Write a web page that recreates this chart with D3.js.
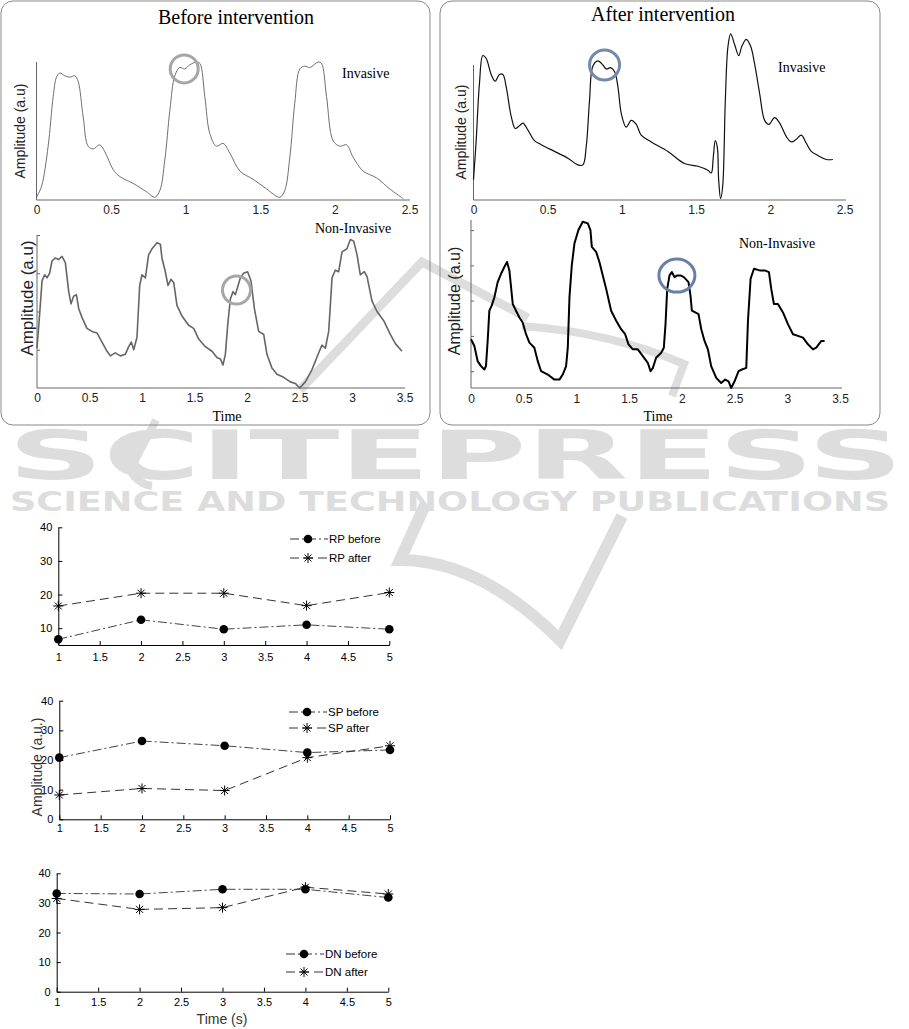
<!DOCTYPE html>
<html>
<head>
<meta charset="utf-8">
<script src="https://cdn.jsdelivr.net/npm/d3@7"></script>
<style>
  body { margin: 0; background: #fff; }
</style>
</head>
<body>
<svg id="main"></svg>
<script>
// pressure waveforms, [time (s), amplitude (a.u.)]
const beforeInvasive = [
  [0, 0.02], [0.034, 0.1], [0.078, 0.39], [0.112, 0.75], [0.134, 0.89], [0.156, 0.92], [0.19, 0.9],
  [0.223, 0.89], [0.257, 0.9], [0.279, 0.86], [0.313, 0.6], [0.346, 0.39], [0.38, 0.37], [0.424, 0.4],
  [0.458, 0.35], [0.514, 0.22], [0.558, 0.17], [0.648, 0.12], [0.737, 0.06], [0.793, 0.02], [0.827, 0.07],
  [0.86, 0.29], [0.894, 0.65], [0.927, 0.9], [0.96, 0.96], [0.994, 0.95], [1.028, 0.98], [1.072, 1.0],
  [1.095, 0.99], [1.128, 0.75], [1.162, 0.48], [1.206, 0.39], [1.251, 0.41], [1.296, 0.34], [1.363, 0.21],
  [1.452, 0.15], [1.542, 0.08], [1.631, 0.02], [1.664, 0.07], [1.698, 0.31], [1.731, 0.7], [1.765, 0.95],
  [1.798, 0.97], [1.832, 0.96], [1.888, 1.0], [1.91, 0.99], [1.944, 0.75], [1.988, 0.43], [2.033, 0.39],
  [2.078, 0.4], [2.122, 0.31], [2.189, 0.21], [2.279, 0.16], [2.368, 0.08], [2.458, 0.01]
];

const beforeNonInvasive = [
  [0, 0.26], [0.025, 0.48], [0.048, 0.7], [0.073, 0.74], [0.095, 0.72], [0.12, 0.75], [0.143, 0.83],
  [0.175, 0.85], [0.206, 0.84], [0.238, 0.86], [0.27, 0.82], [0.302, 0.63], [0.324, 0.55], [0.349, 0.6],
  [0.375, 0.61], [0.397, 0.52], [0.429, 0.46], [0.476, 0.39], [0.524, 0.37], [0.571, 0.36], [0.619, 0.3],
  [0.667, 0.24], [0.698, 0.21], [0.746, 0.23], [0.794, 0.21], [0.841, 0.22], [0.873, 0.27], [0.898, 0.3],
  [0.921, 0.25], [0.952, 0.33], [0.978, 0.67], [1.0, 0.74], [1.032, 0.72], [1.063, 0.87], [1.095, 0.91],
  [1.143, 0.95], [1.175, 0.94], [1.19, 0.85], [1.222, 0.76], [1.248, 0.67], [1.276, 0.71], [1.302, 0.69],
  [1.333, 0.54], [1.381, 0.47], [1.444, 0.41], [1.492, 0.39], [1.54, 0.32], [1.603, 0.27], [1.667, 0.24],
  [1.714, 0.2], [1.746, 0.19], [1.771, 0.15], [1.794, 0.22], [1.816, 0.41], [1.841, 0.58], [1.867, 0.63],
  [1.889, 0.61], [1.911, 0.66], [1.937, 0.72], [1.968, 0.75], [2.006, 0.76], [2.038, 0.7], [2.07, 0.52],
  [2.111, 0.37], [2.159, 0.35], [2.19, 0.22], [2.238, 0.13], [2.286, 0.09], [2.349, 0.07], [2.413, 0.04],
  [2.46, 0.03], [2.502, 0.0], [2.556, 0.04], [2.619, 0.12], [2.683, 0.23], [2.714, 0.28], [2.746, 0.26],
  [2.778, 0.37], [2.81, 0.72], [2.841, 0.77], [2.873, 0.76], [2.905, 0.89], [2.952, 0.91], [2.984, 0.97],
  [3.016, 0.96], [3.048, 0.87], [3.079, 0.74], [3.117, 0.76], [3.143, 0.73], [3.19, 0.57], [3.238, 0.5],
  [3.302, 0.44], [3.365, 0.35], [3.413, 0.29], [3.476, 0.24]
];

const afterInvasive = [
  [0, 0.15], [0.018, 0.44], [0.04, 0.86], [0.063, 1.07], [0.085, 1.05], [0.119, 0.93], [0.146, 0.88],
  [0.175, 0.93], [0.198, 0.93], [0.22, 0.84], [0.254, 0.62], [0.281, 0.53], [0.31, 0.55], [0.333, 0.57],
  [0.366, 0.52], [0.411, 0.44], [0.456, 0.41], [0.546, 0.36], [0.636, 0.31], [0.703, 0.26], [0.737, 0.26],
  [0.76, 0.4], [0.782, 0.74], [0.804, 0.99], [0.838, 1.03], [0.872, 1.0], [0.894, 0.97], [0.924, 0.98],
  [0.951, 0.95], [0.973, 0.84], [0.996, 0.64], [1.029, 0.54], [1.063, 0.59], [1.097, 0.56], [1.13, 0.48],
  [1.198, 0.43], [1.31, 0.36], [1.422, 0.27], [1.512, 0.25], [1.58, 0.22], [1.602, 0.2], [1.616, 0.32],
  [1.629, 0.44], [1.643, 0.39], [1.652, 0.15], [1.665, 0.01], [1.679, 0.1], [1.697, 0.74], [1.715, 1.14],
  [1.733, 1.23], [1.76, 1.15], [1.787, 1.07], [1.809, 1.14], [1.838, 1.19], [1.867, 1.14], [1.894, 1.01],
  [1.928, 0.79], [1.962, 0.59], [1.991, 0.56], [2.029, 0.61], [2.063, 0.57], [2.108, 0.47], [2.142, 0.43],
  [2.175, 0.45], [2.209, 0.48], [2.243, 0.42], [2.276, 0.36], [2.321, 0.33], [2.378, 0.3], [2.422, 0.3]
];

const afterNonInvasive = [
  [0, 0.29], [0.032, 0.25], [0.063, 0.16], [0.095, 0.13], [0.127, 0.11], [0.142, 0.13], [0.158, 0.28],
  [0.174, 0.46], [0.196, 0.49], [0.222, 0.54], [0.253, 0.63], [0.285, 0.68], [0.316, 0.72], [0.342, 0.75],
  [0.364, 0.7], [0.396, 0.5], [0.427, 0.46], [0.459, 0.42], [0.49, 0.39], [0.522, 0.32], [0.554, 0.27],
  [0.601, 0.24], [0.633, 0.16], [0.665, 0.1], [0.728, 0.08], [0.791, 0.05], [0.839, 0.05], [0.87, 0.08],
  [0.902, 0.13], [0.918, 0.24], [0.934, 0.54], [0.956, 0.73], [0.981, 0.86], [1.019, 0.94], [1.06, 0.99],
  [1.108, 0.98], [1.133, 0.94], [1.146, 0.84], [1.187, 0.81], [1.218, 0.75], [1.25, 0.67], [1.282, 0.59],
  [1.329, 0.46], [1.377, 0.4], [1.424, 0.35], [1.462, 0.32], [1.494, 0.26], [1.535, 0.23], [1.582, 0.23],
  [1.63, 0.19], [1.677, 0.15], [1.703, 0.1], [1.725, 0.12], [1.756, 0.18], [1.804, 0.21], [1.829, 0.24],
  [1.845, 0.38], [1.861, 0.59], [1.883, 0.67], [1.905, 0.69], [1.93, 0.66], [1.956, 0.67], [1.987, 0.67],
  [2.019, 0.66], [2.063, 0.63], [2.082, 0.55], [2.095, 0.46], [2.127, 0.45], [2.158, 0.44], [2.184, 0.35],
  [2.215, 0.28], [2.247, 0.23], [2.278, 0.13], [2.326, 0.06], [2.373, 0.03], [2.411, 0.05], [2.443, 0.04],
  [2.468, 0.0], [2.5, 0.04], [2.538, 0.1], [2.57, 0.11], [2.611, 0.12], [2.627, 0.4], [2.652, 0.65],
  [2.684, 0.71], [2.737, 0.7], [2.785, 0.7], [2.826, 0.69], [2.848, 0.59], [2.873, 0.5], [2.911, 0.5],
  [2.959, 0.45], [3.006, 0.38], [3.054, 0.32], [3.101, 0.31], [3.149, 0.3], [3.196, 0.26], [3.244, 0.23],
  [3.275, 0.24], [3.323, 0.28], [3.354, 0.28]
];

// highlighted notch, [time, amplitude]
const notchBeforeInv = [0.99, 0.95];
const notchBeforeNon = [1.9, 0.64];
const notchAfterInv = [0.883, 1.0];
const notchAfterNon = [1.953, 0.669];

const invTicks = [0, 0.5, 1, 1.5, 2, 2.5];
const nonTicks = [0, 0.5, 1, 1.5, 2, 2.5, 3, 3.5];
const beforeNonYTicks = [0.25, 0.5, 0.75, 1];
const afterNonYTicks = [0.1, 0.31, 0.52, 0.73, 0.94];

// feature amplitudes over time
const timeSteps = [1, 2, 3, 4, 5];
const rpBefore = [6.7, 12.5, 9.7, 11, 9.7];
const rpAfter = [16.6, 20.4, 20.4, 16.7, 20.6];
const spBefore = [20.8, 26.4, 24.8, 22.5, 23.4];
const spAfter = [8.2, 10.4, 9.7, 20.8, 24.8];
const dnBefore = [33.2, 33.0, 34.6, 34.6, 31.8];
const dnAfter = [31.5, 27.8, 28.4, 35.3, 33.0];
const timeTicks = [1, 1.5, 2, 2.5, 3, 3.5, 4, 4.5, 5];
const ampTicks = [0, 10, 20, 30, 40];

let width = 909,
  height = 1029;

const svg = d3.select('#main')
  .attr('width', width)
  .attr('height', height);

// ---- watermark ----
const wmColor = '#dddddd';
const wm = svg.append('g').attr('fill', 'none').attr('stroke', wmColor);
wm.append('path').attr('d', 'M300,390 L422,262 L528,318').attr('stroke-width', 9);
wm.append('path').attr('d', 'M522,326 Q610,332 684,364 L672,396').attr('stroke-width', 8);
wm.append('path').attr('d', 'M156,420 L130,470 Q138,484 152,486').attr('stroke-width', 8);
wm.append('path').attr('d', 'M425,505 L400,560 Q480,560 560,640 L622,516').attr('stroke-width', 12);

svg.append('text')
  .text('SCITEPRESS')
  .attr('x', 8)
  .attr('y', 479)
  .attr('font-family', 'DejaVu Sans')
  .attr('font-weight', 'bold')
  .attr('font-size', 68)
  .attr('textLength', 895)
  .attr('lengthAdjust', 'spacingAndGlyphs')
  .attr('fill', wmColor);

svg.append('text')
  .text('SCIENCE AND TECHNOLOGY PUBLICATIONS')
  .attr('x', 10)
  .attr('y', 511)
  .attr('font-family', 'DejaVu Sans')
  .attr('font-weight', 'bold')
  .attr('font-size', 26)
  .attr('textLength', 880)
  .attr('lengthAdjust', 'spacingAndGlyphs')
  .attr('fill', wmColor);

// ---- top panels ----
svg.append('rect')
  .attr('x', 1).attr('y', 1).attr('width', 429).attr('height', 424)
  .attr('rx', 12).attr('fill', 'none').attr('stroke', '#888');

svg.append('rect')
  .attr('x', 440).attr('y', 1).attr('width', 440).attr('height', 424)
  .attr('rx', 12).attr('fill', 'none').attr('stroke', '#888');

svg.append('text')
  .text('Before intervention')
  .attr('x', 236).attr('y', 24)
  .attr('text-anchor', 'middle')
  .attr('font-family', 'Liberation Serif')
  .attr('font-size', 20);

svg.append('text')
  .text('After intervention')
  .attr('x', 663).attr('y', 21)
  .attr('text-anchor', 'middle')
  .attr('font-family', 'Liberation Serif')
  .attr('font-size', 20);

const drawWave = p => {
  const x = d3.scaleLinear().domain(p.xDomain).range(p.xRange);
  const y = d3.scaleLinear().domain([0, 1]).range(p.yRange);
  const g = svg.append('g');

  g.append('g')
    .attr('transform', `translate(0, ${p.yRange[0]})`)
    .call(d3.axisBottom(x).tickValues(p.xTicks).tickSize(0).tickPadding(p.pad).tickFormat(d3.format('')))
    .call(a => a.select('.domain').attr('stroke', '#666').attr('d', `M${p.xRange[0]},0H${p.axisEnd}`))
    .selectAll('text')
    .attr('font-family', 'Liberation Sans')
    .attr('font-size', 12)
    .attr('fill', '#222');

  const yAxis = g.append('g')
    .attr('transform', `translate(${p.xRange[0]}, 0)`)
    .call(d3.axisRight(y).tickValues(p.yTicks || []).tickSize(p.yTicks ? 3 : 0).tickFormat(''));
  yAxis.select('.domain').attr('stroke', '#666').attr('d', `M0,${p.yRange[0]}V${p.yTop}`);
  yAxis.selectAll('line').attr('stroke', '#666');

  g.append('path')
    .datum(p.data)
    .attr('fill', 'none')
    .attr('stroke', p.color)
    .attr('stroke-width', p.lw)
    .attr('stroke-linejoin', 'round')
    .attr('d', d3.line().x(d => x(d[0])).y(d => y(d[1])).curve(p.curve));

  g.append('ellipse')
    .attr('cx', x(p.notch[0]))
    .attr('cy', y(p.notch[1]))
    .attr('rx', p.rx)
    .attr('ry', p.ry)
    .attr('fill', 'none')
    .attr('stroke', p.circleColor)
    .attr('stroke-width', 3);

  g.append('text')
    .text('Amplitude (a.u)')
    .attr('transform', `translate(${p.labelX}, ${p.labelY}) rotate(-90)`)
    .attr('text-anchor', 'middle')
    .attr('font-family', 'Liberation Sans')
    .attr('font-size', p.labelSize)
    .attr('fill', '#222');

  g.append('text')
    .text(p.name)
    .attr('x', p.nameX).attr('y', p.nameY)
    .attr('font-family', 'Liberation Serif')
    .attr('font-size', 14);

  if (p.time) {
    g.append('text')
      .text('Time')
      .attr('x', p.time[0]).attr('y', p.time[1])
      .attr('text-anchor', 'middle')
      .attr('font-family', 'Liberation Serif')
      .attr('font-size', 14);
  }
};

drawWave({
  data: beforeInvasive, xDomain: [0, 2.5], xRange: [36.5, 409.5], axisEnd: 410, yRange: [200, 62], yTop: 62,
  xTicks: invTicks, pad: 5.5, color: '#6f6f6f', lw: 1, curve: d3.curveCatmullRom,
  notch: notchBeforeInv, rx: 14, ry: 14, circleColor: '#a6a6a6',
  labelX: 25, labelY: 131, labelSize: 14, name: 'Invasive', nameX: 342, nameY: 78
});

drawWave({
  data: beforeNonInvasive, xDomain: [0, 3.5], xRange: [37, 404.5], axisEnd: 405, yRange: [388, 235], yTop: 235,
  xTicks: nonTicks, yTicks: beforeNonYTicks, pad: 5, color: '#666', lw: 1.6, curve: d3.curveLinear,
  notch: notchBeforeNon, rx: 14, ry: 14, circleColor: '#a6a6a6',
  labelX: 33, labelY: 298, labelSize: 17, name: 'Non-Invasive', nameX: 315, nameY: 233, time: [227, 421]
});

drawWave({
  data: afterInvasive, xDomain: [0, 2.5], xRange: [473.5, 844.5], axisEnd: 846, yRange: [200, 65], yTop: 65,
  xTicks: invTicks, pad: 5.5, color: '#111', lw: 1.2, curve: d3.curveCatmullRom,
  notch: notchAfterInv, rx: 15, ry: 15, circleColor: '#7589ad',
  labelX: 466, labelY: 132, labelSize: 14, name: 'Invasive', nameX: 778, nameY: 72
});

drawWave({
  data: afterNonInvasive, xDomain: [0, 3.5], xRange: [471, 840], axisEnd: 842, yRange: [388, 220], yTop: 220,
  xTicks: nonTicks, yTicks: afterNonYTicks, pad: 6, color: '#000', lw: 2, curve: d3.curveLinear,
  notch: notchAfterNon, rx: 18, ry: 16.5, circleColor: '#6880a8',
  labelX: 460, labelY: 301, labelSize: 16, name: 'Non-Invasive', nameX: 739, nameY: 248, time: [658, 421]
});

// ---- feature charts ----
const starPath = s => {
  const k = s * 0.7;
  return `M${-s},0L${s},0M0,${-s}L0,${s}M${-k},${-k}L${k},${k}M${-k},${k}L${k},${-k}`;
};

const drawFeature = p => {
  const x = d3.scaleLinear().domain([1, 5]).range(p.xRange);
  const y = d3.scaleLinear().domain(p.yDomain).range(p.yRange);
  const g = svg.append('g');

  g.append('g')
    .attr('transform', `translate(0, ${p.yRange[0]})`)
    .call(d3.axisBottom(x).tickValues(timeTicks).tickSizeInner(-4).tickSizeOuter(0).tickPadding(p.pad).tickFormat(d3.format('')))
    .selectAll('text')
    .attr('font-family', 'Liberation Sans')
    .attr('font-size', 11);

  g.append('g')
    .attr('transform', `translate(${p.xRange[0]}, 0)`)
    .call(d3.axisLeft(y).tickValues(ampTicks.filter(v => v >= p.yDomain[0])).tickSizeInner(-4).tickSizeOuter(0).tickPadding(6))
    .selectAll('text')
    .attr('font-family', 'Liberation Sans')
    .attr('font-size', 11);

  const line = d3.line().x((d, i) => x(timeSteps[i])).y(d => y(d));

  g.append('path')
    .datum(p.before)
    .attr('fill', 'none')
    .attr('stroke', '#444')
    .attr('stroke-dasharray', '9,3,2,3')
    .attr('d', line);

  g.append('path')
    .datum(p.after)
    .attr('fill', 'none')
    .attr('stroke', '#333')
    .attr('stroke-dasharray', '9,5')
    .attr('d', line);

  g.selectAll('.dot')
    .data(p.before)
    .enter()
    .append('circle')
    .attr('cx', (d, i) => x(timeSteps[i]))
    .attr('cy', d => y(d))
    .attr('r', 4.3)
    .attr('fill', '#000');

  g.selectAll('.star')
    .data(p.after)
    .enter()
    .append('path')
    .attr('transform', (d, i) => `translate(${x(timeSteps[i])}, ${y(d)})`)
    .attr('d', starPath(5))
    .attr('stroke', '#000')
    .attr('fill', 'none');

  // legend
  const lx = p.legend[0];
  const rows = [
    { label: p.name + ' before', y: p.legend[1], dash: '9,3,2,3', mark: 'dot' },
    { label: p.name + ' after', y: p.legend[2], dash: '9,5', mark: 'star' }
  ];
  rows.forEach(r => {
    g.append('line')
      .attr('x1', lx).attr('x2', lx + 38)
      .attr('y1', r.y).attr('y2', r.y)
      .attr('stroke', '#333')
      .attr('stroke-dasharray', r.dash);
    if (r.mark == 'dot') {
      g.append('circle').attr('cx', lx + 18).attr('cy', r.y).attr('r', 4.3).attr('fill', '#000');
    } else {
      g.append('path').attr('transform', `translate(${lx + 18}, ${r.y})`).attr('d', starPath(5))
        .attr('stroke', '#000').attr('fill', 'none');
    }
    g.append('text')
      .text(r.label)
      .attr('x', lx + 39).attr('y', r.y + 4)
      .attr('font-family', 'Liberation Sans')
      .attr('font-size', 11.5);
  });
};

drawFeature({
  before: rpBefore, after: rpAfter, name: 'RP',
  xRange: [58.3, 389.3], yDomain: [5, 40], yRange: [645, 527.3], pad: 8, legend: [290, 539, 558]
});

drawFeature({
  before: spBefore, after: spAfter, name: 'SP',
  xRange: [59.3, 390], yDomain: [0, 40], yRange: [819.3, 700.7], pad: 5, legend: [289, 712, 728]
});

drawFeature({
  before: dnBefore, after: dnAfter, name: 'DN',
  xRange: [56.7, 388.3], yDomain: [0, 40], yRange: [991.7, 873.3], pad: 7, legend: [286, 954, 972]
});

svg.append('text')
  .text('Amplitude (a.u.)')
  .attr('transform', 'translate(42, 767) rotate(-90)')
  .attr('text-anchor', 'middle')
  .attr('font-family', 'Liberation Sans')
  .attr('font-size', 14)
  .attr('fill', '#333');

svg.append('text')
  .text('Time (s)')
  .attr('x', 222).attr('y', 1024)
  .attr('text-anchor', 'middle')
  .attr('font-family', 'Liberation Sans')
  .attr('font-size', 14)
  .attr('fill', '#333');
</script>
</body>
</html>
